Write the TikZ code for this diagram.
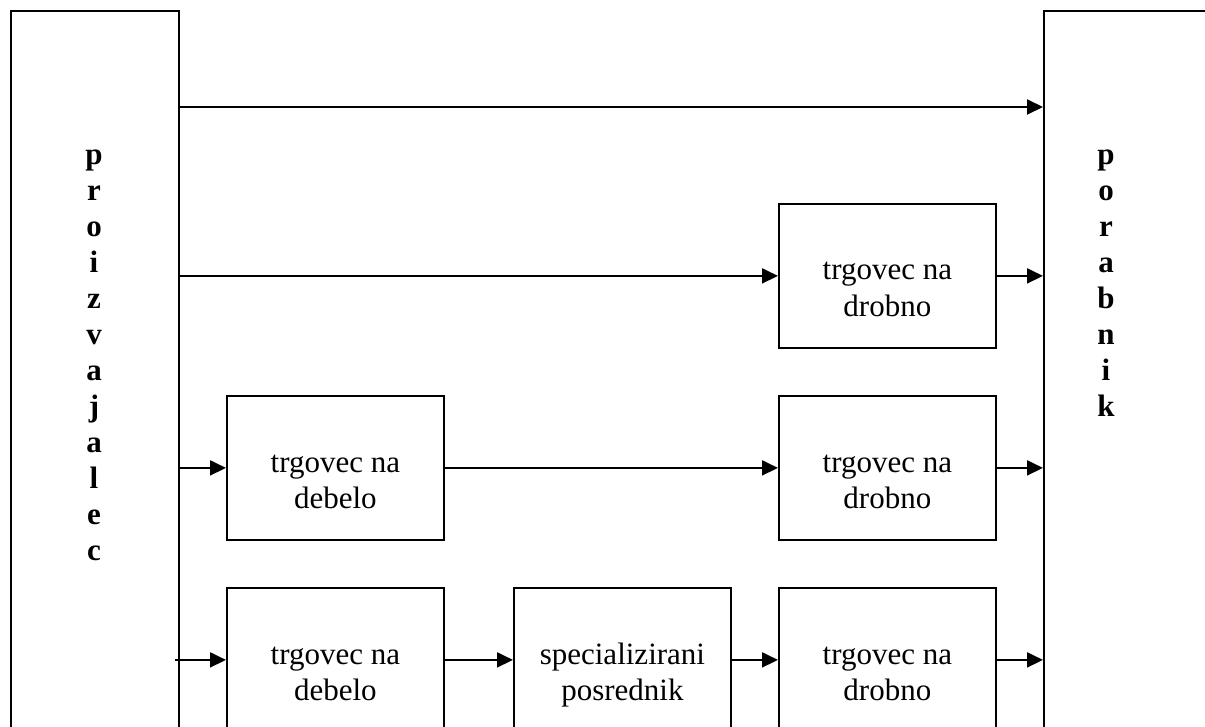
\documentclass[tikz,border=0pt]{standalone}
\usepackage{fontspec}
\setmainfont{Liberation Serif}
\usetikzlibrary{arrows.meta,calc}
% two centred lines, the node's baseline being that of the first line
\newcommand\twolines[2]{\parbox[t]{210pt}{\centering #1\\#2}}
% letters stacked one above the other
\newcommand\stacked[1]{\parbox[t]{40pt}{\centering\bfseries #1}}
\begin{document}
\begin{tikzpicture}[x=1pt,y=-1pt,
  party/.style={draw, line width=2.2pt, rectangle, minimum width=168pt,
    minimum height=780pt, anchor=north west, inner sep=0pt},
  agent/.style={draw, line width=1.8pt, rectangle, minimum width=217pt,
    minimum height=144pt, anchor=north west, inner sep=0pt},
  lbl/.style={font=\fontsize{31}{36}\selectfont, anchor=base, inner sep=0pt},
  flow/.style={line width=1.9pt, -{Triangle[length=16pt,width=15pt]}}]
\useasboundingbox (0,0) rectangle (1205,727);
\clip (0,0) rectangle (1205,727);

% producer and consumer
\node[party] (proizv) at (10,10) {};
\node[party] (porab) at (1043,10) {};
\node[lbl] (proizvtxt) at (94,165) {\stacked{p\\r\\o\\i\\z\\v\\a\\j\\a\\l\\e\\c}};
\node[lbl] (porabtxt) at (1106,165) {\stacked{p\\o\\r\\a\\b\\n\\i\\k}};

% intermediaries
\node[agent] (drob1) at (778,203) {};
\node[agent] (deb1)  at (226,395) {};
\node[agent] (drob2) at (778,395) {};
\node[agent] (deb2)  at (226,587) {};
\node[agent] (spec)  at (513,587) {};
\node[agent] (drob3) at (778,587) {};

\node[lbl] (drob1txt) at ($(drob1.north)+(0,77)$) {\twolines{trgovec na}{drobno}};
\node[lbl] (deb1txt)  at ($(deb1.north)+(0,77)$)  {\twolines{trgovec na}{debelo}};
\node[lbl] (drob2txt) at ($(drob2.north)+(0,77)$) {\twolines{trgovec na}{drobno}};
\node[lbl] (deb2txt)  at ($(deb2.north)+(0,77)$)  {\twolines{trgovec na}{debelo}};
\node[lbl] (spectxt)  at ($(spec.north)+(0,77)$)  {\twolines{specializirani}{posrednik}};
\node[lbl] (drob3txt) at ($(drob3.north)+(0,77)$) {\twolines{trgovec na}{drobno}};

% channel rows
\coordinate (row1) at (0,107);
\coordinate (start4) at (175,0);

\draw[flow] (proizv.east |- row1) -- (porab.west |- row1);

\draw[flow] (proizv.east |- drob1.west) -- (drob1.west);
\draw[flow] (drob1.east) -- (porab.west |- drob1.east);

\draw[flow] (proizv.east |- deb1.west) -- (deb1.west);
\draw[flow] (deb1.east) -- (drob2.west);
\draw[flow] (drob2.east) -- (porab.west |- drob2.east);

\draw[flow] (start4 |- deb2.west) -- (deb2.west);
\draw[flow] (deb2.east) -- (spec.west);
\draw[flow] (spec.east) -- (drob3.west);
\draw[flow] (drob3.east) -- (porab.west |- drob3.east);
\end{tikzpicture}
\end{document}
